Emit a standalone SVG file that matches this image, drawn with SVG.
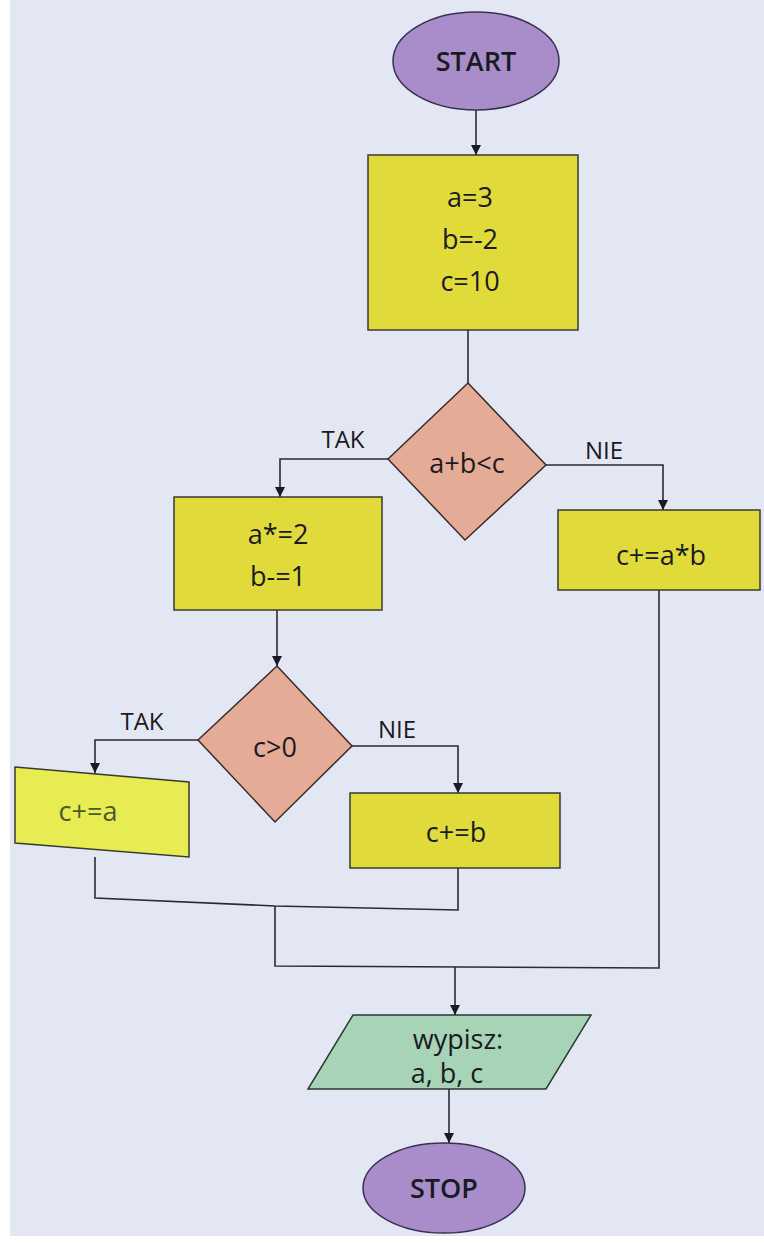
<svg xmlns="http://www.w3.org/2000/svg" width="764" height="1243" viewBox="0 0 764 1243">
<defs>
<style>
.t{font-family:"Open Sans","Liberation Sans",sans-serif;font-size:27px;fill:#1a1a22;text-anchor:middle}
.b{font-weight:600}
.lbl{font-family:"Open Sans","Liberation Sans",sans-serif;font-size:24px;fill:#1a1a22;text-anchor:middle}
.term{fill:#a88dca;stroke:#3a3050;stroke-width:1.5}
.proc{fill:#e0da3a;stroke:#3a3a30;stroke-width:1.5}
.dec{fill:#e4ab96;stroke:#3a2a2a;stroke-width:1.5}
.io{fill:#a7d3b6;stroke:#2a3a30;stroke-width:1.5}
.c{fill:none;stroke:#2a2a38;stroke-width:1.6}
</style>
<marker id="ah" viewBox="0 0 10 10" refX="10" refY="5" markerWidth="10" markerHeight="10" markerUnits="userSpaceOnUse" orient="auto">
<path d="M0,0 L10,5 L0,10 z" fill="#1a1a26"/>
</marker>
</defs>
<rect x="0" y="0" width="764" height="1243" fill="#ffffff"/>
<rect x="10" y="0" width="754" height="1236" fill="#e3e7f3"/>

<g id="connectors">
<path class="c" d="M476,110 L476,155" marker-end="url(#ah)"/>
<path class="c" d="M468,330 L468,383"/>
<path class="c" d="M388,459 L280,459 L280,497" marker-end="url(#ah)"/>
<path class="c" d="M546,465 L663,465 L663,510" marker-end="url(#ah)"/>
<path class="c" d="M277,610 L277,666" marker-end="url(#ah)"/>
<path class="c" d="M198,740 L95,740 L95,773" marker-end="url(#ah)"/>
<path class="c" d="M352,746 L458,746 L458,793" marker-end="url(#ah)"/>
<path class="c" d="M95,857 L95,898 L275,906 L458,910 L458,868"/>
<path class="c" d="M275,906 L275,966 L659,968 L659,590"/>
<path class="c" d="M455,967 L455,1015" marker-end="url(#ah)"/>
<path class="c" d="M449,1089 L449,1143" marker-end="url(#ah)"/>
<text class="lbl" x="343" y="448">TAK</text>
<text class="lbl" x="604" y="459">NIE</text>
<text class="lbl" x="142" y="730">TAK</text>
<text class="lbl" x="397" y="738">NIE</text>
</g>

<g id="start">
<ellipse class="term" cx="476" cy="61" rx="83" ry="49"/>
<text class="t b" x="476" y="71">START</text>
</g>

<g id="init">
<rect class="proc" x="368" y="155" width="210" height="175"/>
<text class="t" x="470" y="207">a=3</text>
<text class="t" x="470" y="249">b=-2</text>
<text class="t" x="470" y="291">c=10</text>
</g>

<g id="cond1">
<polygon class="dec" points="468,383 546,465 465,540 388,459"/>
<text class="t" x="467" y="473">a+b&lt;c</text>
</g>

<g id="yes1">
<rect class="proc" x="174" y="497" width="208" height="113"/>
<text class="t" x="278" y="544">a*=2</text>
<text class="t" x="278" y="586">b-=1</text>
</g>

<g id="no1">
<rect class="proc" x="558" y="510" width="202" height="80"/>
<text class="t" x="661" y="565">c+=a*b</text>
</g>

<g id="cond2">
<polygon class="dec" points="277,666 352,746 275,822 198,740"/>
<text class="t" x="275" y="757">c&gt;0</text>
</g>

<g id="yes2">
<polygon class="proc" points="15,767 189,782 189,857 15,843" style="fill:#e6ec52"/>
<text class="t" x="88" y="821" style="fill:#4a5a2a">c+=a</text>
</g>

<g id="no2">
<rect class="proc" x="350" y="793" width="210" height="75"/>
<text class="t" x="456" y="842">c+=b</text>
</g>

<g id="output">
<polygon class="io" points="353,1015 591,1015 546,1089 308,1089"/>
<text class="t" x="458" y="1049">wypisz:</text>
<text class="t" x="447" y="1083">a, b, c</text>
</g>

<g id="stop">
<ellipse class="term" cx="444" cy="1188" rx="81" ry="45"/>
<text class="t b" x="444" y="1198">STOP</text>
</g>
</svg>
